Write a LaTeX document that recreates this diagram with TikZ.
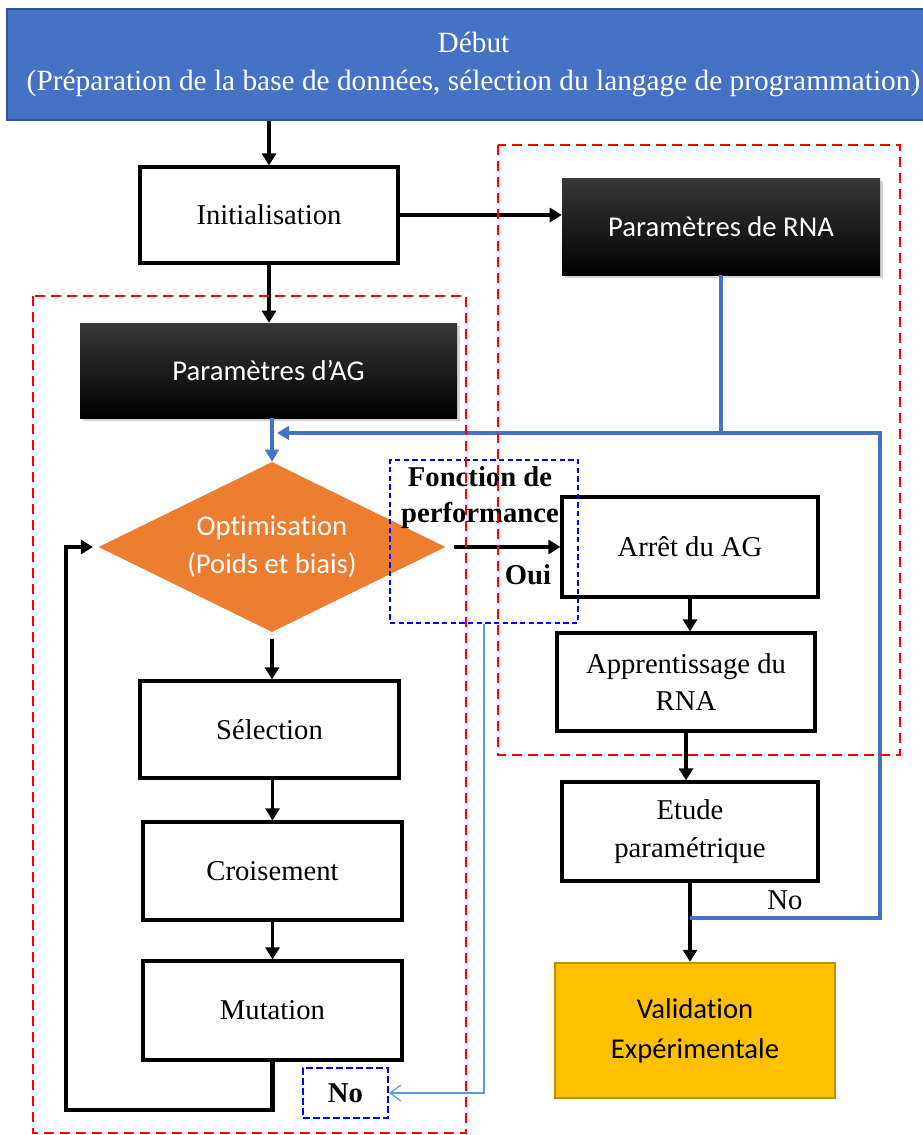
\documentclass[tikz,border=0pt]{standalone}
\usepackage{fontspec}
\setmainfont{Liberation Serif}
\newfontfamily\calibri[Ligatures=NoCommon]{Carlito}
\usetikzlibrary{arrows.meta,shapes.geometric,shadows}

\definecolor{debutblue}{HTML}{4472C4}
\definecolor{debutedge}{HTML}{2F5597}
\definecolor{optorange}{HTML}{ED7D31}
\definecolor{valgold}{HTML}{FFC000}
\definecolor{valedge}{HTML}{BF9000}
\definecolor{fbblue}{HTML}{4472C4}
\definecolor{thinblue}{HTML}{5B9BD5}
\definecolor{dashred}{HTML}{FF0000}
\definecolor{dashblue}{HTML}{0000FF}

\begin{document}
\begin{tikzpicture}[x=0.75pt,y=-0.75pt,
  every node/.style={font=\fontsize{21.5}{28}\selectfont},
  sz/.style 2 args={minimum width=#1*0.75pt, minimum height=#2*0.75pt},
  procbox/.style={draw=black, line width=2.4pt, fill=white, align=center, inner sep=0pt},
  darkbox/.style={top color=black!78, middle color=black, bottom color=black,
    text=white, inner sep=0pt, font=\calibri\fontsize{21.5}{28}\selectfont,
    drop shadow={shadow xshift=2pt, shadow yshift=-2.5pt, opacity=0.35}},
  flow/.style={line width=2.3pt, -{Triangle[length=9pt,width=10.5pt]}},
  fbline/.style={color=fbblue, line width=2.3pt},
  groupframe/.style={draw=dashred, line width=1.6pt, dash pattern=on 7.5pt off 4.5pt},
  labelframe/.style={draw=dashblue, line width=1.3pt, dash pattern=on 4pt off 2.5pt},
  boldlbl/.style={font=\bfseries\fontsize{21.5}{27}\selectfont, align=center, inner sep=0pt}
]
\useasboundingbox (0,0) rectangle (923,1135);

% Start banner
\node[draw=debutedge, line width=1pt, fill=debutblue, text=white, align=center,
  sz={933}{111}, inner sep=0pt, font=\fontsize{22}{28}\selectfont] (debut) at (473.5,64.5)
  {Début\\(Préparation de la base de données, sélection du langage de programmation)};

% Initialisation and the two parameter blocks
\node[procbox, sz={258}{96}] (init) at (269,215) {Initialisation};
\node[darkbox, sz={318}{97}] (rna) at (721,226.5) {Paramètres de RNA};
\node[darkbox, sz={377}{95}] (ag) at (268.5,370.5) {Paramètres d’AG};

% Genetic algorithm loop
\node[diamond, fill=optorange, sz={347}{170}, inner sep=0pt, aspect=2,
  text=white, align=center, font=\calibri\fontsize{21.5}{28.5}\selectfont]
  (opt) at (272,547) {Optimisation\\(Poids et biais)};
\node[procbox, sz={259}{97}] (sel) at (269.5,729.5) {Sélection};
\node[procbox, sz={259}{98}] (crois) at (272.5,871) {Croisement};
\node[procbox, sz={259}{99}] (mut) at (272.5,1010.5) {Mutation};

% Network training branch
\node[procbox, sz={256}{100}] (arret) at (690,547) {Arrêt du AG};
\node[procbox, sz={258}{98}] (app) at (686,682) {Apprentissage du\\RNA};
\node[procbox, sz={256}{99}] (etude) at (690,831.5) {Etude\\paramétrique};
\node[draw=valedge, line width=1.8pt, fill=valgold, align=center, inner sep=0pt,
  sz={280}{135}, font=\calibri\fontsize{21.5}{30}\selectfont]
  (valid) at (695,1030.5) {Validation\\Expérimentale};

% Main flow
\draw[flow] (debut.south -| init.north) -- (init.north);
\draw[flow] (init.east) -- (init.east -| rna.west);
\draw[flow] (init.south) -- (init.south |- ag.north);
\draw[flow, shorten <=6pt] (opt.east) -- (arret.west);
\draw[flow] (arret.south) -- (arret.south |- app.north);
\draw[flow] (app.south) -- (app.south |- etude.north);
\draw[flow] (etude.south) -- (etude.south |- valid.north);
\draw[flow, shorten <=5pt] (opt.south) -- (opt.south |- sel.north);
\draw[flow] (sel.south -| crois.north) -- (crois.north);
\draw[flow] (crois.south) -- (mut.north);

% Return from mutation to optimisation
\coordinate (loopBL) at (66,1110);
\draw[line width=3.2pt, -{Triangle[length=9pt,width=10.5pt]}, shorten >=4pt]
  (mut.south) |- (loopBL) |- (opt.west);

% Blue feedback from the parametric study and the network parameters
\coordinate (noJoin) at (690,918);
\coordinate (fbBR) at (880,918);
\coordinate (fbTR) at (880,433);
\coordinate (fbEnd) at (277,433);
\draw[fbline, line width=2.3pt] (rna.south) -- (rna.south |- fbTR);
\draw[fbline, line width=2.3pt, -{Triangle[length=9pt,width=10pt]}]
  (noJoin) -- (fbBR) -- (fbTR) -- (fbEnd);
\draw[fbline, line width=2.3pt, -{Triangle[length=9pt,width=10pt]}]
  (ag.south -| opt.north) -- (opt.north);
\node[inner sep=0pt] (nolbl) at (785,900) {No};

% Performance test labels
\node[labelframe, sz={188}{163}] (fonc) at (484,541.5) {};
\node[boldlbl] (fonctxt) at (480,498) {Fonction de\\performance};
\node[boldlbl] (oui) at (528,575) {Oui};
\node[labelframe, line width=1.8pt, dash pattern=on 5pt off 2.5pt, sz={85}{50},
  font=\bfseries\fontsize{21.5}{27}\selectfont] (no) at (345.5,1093) {No};
\draw[draw=thinblue, line width=0.9pt, -{Straight Barb[length=8pt,width=12pt]}]
  (fonc.south) |- (no.east);

% Grouping frames
\draw[groupframe] (498,145) rectangle (900,755);
\draw[groupframe] (33,296) rectangle (466,1133);
\end{tikzpicture}
\end{document}
